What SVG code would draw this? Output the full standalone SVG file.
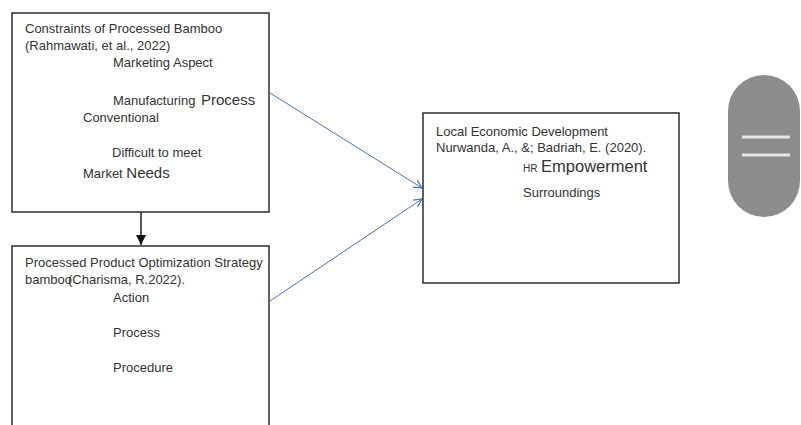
<svg xmlns="http://www.w3.org/2000/svg" width="801" height="425" viewBox="0 0 801 425">
<style>
.box{fill:#fff;stroke:#1e1e1e;stroke-width:1.4}
text{font-family:"Liberation Sans",Arial,sans-serif;font-size:13px;fill:#333}
.big{font-size:15px}
.big2{font-size:16.5px}
.small{font-size:10px}
.blue{stroke:#4a72b0;stroke-width:1;fill:none}
</style>
<defs>
<marker id="ab" markerWidth="10" markerHeight="10" refX="9" refY="5" orient="auto" markerUnits="userSpaceOnUse">
<path d="M1,1 L9,5 L1,9" fill="none" stroke="#4a72b0" stroke-width="1.2"/>
</marker>
<marker id="ak" markerWidth="12" markerHeight="12" refX="10" refY="6" orient="auto" markerUnits="userSpaceOnUse">
<path d="M0,1 L10,6 L0,11 Z" fill="#111"/>
</marker>
</defs>
<rect width="801" height="425" fill="#fff"/>
<g id="connectors">
<line x1="141" y1="212" x2="141" y2="245" stroke="#111" stroke-width="1.4" marker-end="url(#ak)"/>
<line class="blue" x1="270" y1="93" x2="422" y2="188" marker-end="url(#ab)"/>
<line class="blue" x1="270" y1="301" x2="422" y2="199" marker-end="url(#ab)"/>
</g>
<g id="constraints">
<rect class="box" x="12" y="13" width="257" height="199"/>
<text x="25" y="33">Constraints of Processed Bamboo</text>
<text x="25" y="50">(Rahmawati, et al., 2022)</text>
<text x="113" y="67">Marketing Aspect</text>
<text x="113" y="105">Manufacturing <tspan class="big" dx="2">Process</tspan></text>
<text x="83" y="122">Conventional</text>
<text x="112" y="157">Difficult to meet</text>
<text x="83" y="178">Market <tspan class="big">Needs</tspan></text>
</g>
<g id="strategy">
<rect class="box" x="12" y="246" width="257" height="190"/>
<text x="25" y="267">Processed Product Optimization Strategy</text>
<text x="25" y="284">bamboo<tspan dx="-4">(Charisma, R.2022).</tspan></text>
<text x="113" y="302">Action</text>
<text x="113" y="337">Process</text>
<text x="113" y="372">Procedure</text>
</g>
<g id="local">
<rect class="box" x="423" y="113" width="256" height="170"/>
<text x="436" y="136">Local Economic Development</text>
<text x="436" y="152">Nurwanda, A., &amp;; Badriah, E. (2020).</text>
<text x="523" y="172"><tspan class="small">HR</tspan> <tspan class="big2">Empowerment</tspan></text>
<text x="523" y="197">Surroundings</text>
</g>
<g id="menu">
<rect x="728" y="75" width="72" height="142" rx="36" fill="#8c8c8c"/>
<line x1="742" y1="137" x2="790" y2="137" stroke="#e6e6e6" stroke-width="3"/>
<line x1="742" y1="155" x2="790" y2="155" stroke="#e6e6e6" stroke-width="3"/>
</g>
</svg>
